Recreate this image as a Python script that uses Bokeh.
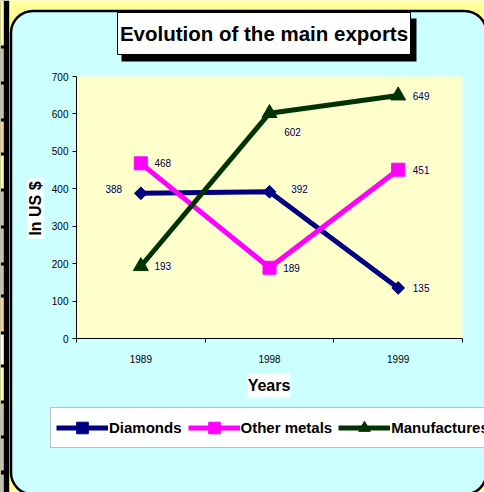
import numpy as np
from bokeh.plotting import figure
from bokeh.layouts import column
from bokeh.models import (Range1d, FixedTicker, BoxAnnotation, LabelSet,
                          ColumnDataSource, Legend, LegendItem, Plot, Quad, Line,
                          Scatter, Text)
from bokeh.core.properties import value
from bokeh.embed import file_html
from bokeh.resources import INLINE

# ---------------- data ----------------
years = ["1989", "1998", "1999"]
series_names = ["Diamonds", "Other metals", "Manufactures"]
diamonds = [388, 392, 135]
other_metals = [468, 189, 451]
manufactures = [193, 602, 649]
y_ticks = [0, 100, 200, 300, 400, 500, 600, 700]
title_text = "Evolution of the main exports"
x_title = "Years"
y_title = "In US $"

# ---------------- styles ----------------
colors = ["#000080", "#FF00FF", "#003300"]
markers = ["square", "square", "triangle"]
marker_angles = [np.pi / 4, 0, 0]
marker_sizes = [9, 13, 15]
label_dx = [[-27, 30, 23], [22, 22, 23], [22, 23, 23]]
label_dy = [[4, 3, 0], [0, 0, 0], [0, -19, 0]]

FONT = "Liberation Sans"
W, H = 484, 492
FL, FT, FR, FB = 76, 76, 462, 338


def setp(model, **kw):
    props = model.properties()
    for k, v in kw.items():
        if k in props:
            setattr(model, k, v)


def rects(plot, lefts, tops, rights, bottoms, fill, line=None, lw=1):
    src = ColumnDataSource(dict(left=lefts, right=rights, top=tops, bottom=bottoms, fill=fill))
    plot.add_glyph(src, Quad(left="left", right="right", top="top", bottom="bottom",
                             fill_color="fill", line_color=line, line_width=lw))


def text(plot, x, y, s, size, angle=0.0):
    src = ColumnDataSource(dict(x=[x], y=[y], text=[s]))
    plot.add_glyph(src, Text(x="x", y="y", text="text", angle=angle,
                             text_font=value(FONT), text_font_size=value(size),
                             text_font_style="bold", text_color="black",
                             text_align="center", text_baseline="middle"))


# =============== background figure (pixel coordinates, y down) ===============
bg = Plot(width=W, height=H, x_range=Range1d(0, W), y_range=Range1d(H, 0),
          min_border=0, toolbar_location=None, output_backend="svg",
          outline_line_color=None, background_fill_color="#FFFF99",
          border_fill_color="#FFFF99")
setp(bg, frame_align=False)

cells = [(0, 45, "#FFFF99"), (48, 81, "#C0C0C0"), (84, 118, "#C0C0C0"),
         (121, 152, "#FFCC99"), (155, 188, "#FFFF99"), (191, 225, "#C0C0C0"),
         (228, 262, "#C0C0C0"), (265, 294, "#C0C0C0"), (297, 331, "#FFCC99"),
         (334, 364, "#FFFFFF"), (367, 400, "#FFFF99"), (403, 435, "#C0C0C0"),
         (438, 470, "#C0C0C0"), (474, H + 5, "#C0C0C0")]
rects(bg, [0], [0], [8.7], [H + 5], ["black"])
rects(bg, [0] * len(cells), [c[0] for c in cells], [3.3] * len(cells),
      [c[1] for c in cells], [c[2] for c in cells])

chart_area = BoxAnnotation(left=10.5, right=486, top=10.5, bottom=494,
                           fill_color="#CCFFFF", fill_alpha=1,
                           line_color="black", line_alpha=1, line_width=2.5,
                           level="underlay")
setp(chart_area, border_radius=22)
bg.add_layout(chart_area)

# title box with shadow
rects(bg, [121], [18], [416], [61], ["black"])
rects(bg, [117], [12], [410], [54], ["white"], line="black", lw=1)
text(bg, 263.5, 33, title_text, "20.5px")

# axis titles on white boxes
rects(bg, [247, 27], [373, 178], [290, 43], [397, 238], ["white", "white"])
text(bg, 268.5, 385, x_title, "16px")
text(bg, 35, 208, y_title, "16px", angle=np.pi / 2)

# legend swatches share the series styles
items = []
nodata = ColumnDataSource(dict(x=[np.nan], y=[np.nan]))
for name, col, mk, ang, ms in zip(series_names, colors, markers, marker_angles, marker_sizes):
    lr = bg.add_glyph(nodata, Line(x="x", y="y", line_color=col, line_width=5))
    sr = bg.add_glyph(nodata, Scatter(x="x", y="y", marker=mk, size=ms, angle=ang,
                                      fill_color=col, line_color=col))
    items.append(LegendItem(label=name, renderers=[lr, sr]))
legend = Legend(items=items, orientation="horizontal",
                location=(50, H - 448), margin=0, padding=5, spacing=6,
                glyph_width=52, glyph_height=29, label_standoff=1,
                label_text_font=FONT, label_text_font_size="15px",
                label_text_font_style="bold", label_text_color="black",
                border_line_color="#808080", border_line_width=1,
                background_fill_color="white", background_fill_alpha=1)
bg.add_layout(legend)

# =============== chart figure ===============
p = figure(width=W, height=H, output_backend="svg", toolbar_location=None,
           x_range=Range1d(0, len(years)), y_range=Range1d(y_ticks[0], y_ticks[-1]),
           min_border_left=FL, min_border_right=W - FR,
           min_border_top=FT, min_border_bottom=H - FB)
setp(p, frame_align=False)
p.background_fill_color = "#FFFFCC"
p.border_fill_alpha = 0
p.outline_line_color = None
p.xgrid.grid_line_color = None
p.ygrid.grid_line_color = None
p.styles = {"margin-top": f"-{H}px"}

xs = [i + 0.5 for i in range(len(years))]
xa = p.xaxis[0]
xa.ticker = FixedTicker(ticks=xs, minor_ticks=list(range(len(years) + 1)))
xa.major_label_overrides = {x: yr for x, yr in zip(xs, years)}
xa.major_tick_out = 0
xa.major_tick_in = 0
xa.minor_tick_out = 4
xa.minor_tick_in = 0
xa.minor_tick_line_color = "black"
xa.major_label_standoff = 12

ya = p.yaxis[0]
ya.ticker = FixedTicker(ticks=y_ticks)
ya.major_tick_out = 4
ya.major_tick_in = 0
ya.minor_tick_line_color = None
ya.major_label_standoff = 4

for ax in (xa, ya):
    ax.axis_line_color = "black"
    ax.axis_line_width = 1
    ax.major_tick_line_color = "black"
    ax.major_label_text_font = FONT
    ax.major_label_text_font_size = "10px"
    ax.major_label_text_color = "black"
    setp(ax, major_label_background_fill_color="white")

all_series = [diamonds, other_metals, manufactures]
for vals, col, mk, ang, ms in zip(all_series, colors, markers, marker_angles, marker_sizes):
    p.line(xs, vals, line_color=col, line_width=5)
    p.scatter(xs, vals, marker=mk, size=ms, angle=ang, fill_color=col, line_color=col)

lx, ly, lt, ldx, ldy = [], [], [], [], []
for vals, dxs, dys in zip(all_series, label_dx, label_dy):
    for x, v, dx, dy in zip(xs, vals, dxs, dys):
        lx.append(x)
        ly.append(v)
        lt.append(str(v))
        ldx.append(dx)
        ldy.append(dy)
src = ColumnDataSource(dict(x=lx, y=ly, text=lt, dx=ldx, dy=ldy))
ls = LabelSet(x="x", y="y", text="text", x_offset="dx", y_offset="dy", source=src,
              text_font=value(FONT), text_font_size="10px", text_color="black",
              text_align="center", text_baseline="middle",
              background_fill_color="white", background_fill_alpha=1)
p.add_layout(ls)

layout = column(bg, p, spacing=0)
open("out.html", "w").write(file_html(layout, INLINE))
